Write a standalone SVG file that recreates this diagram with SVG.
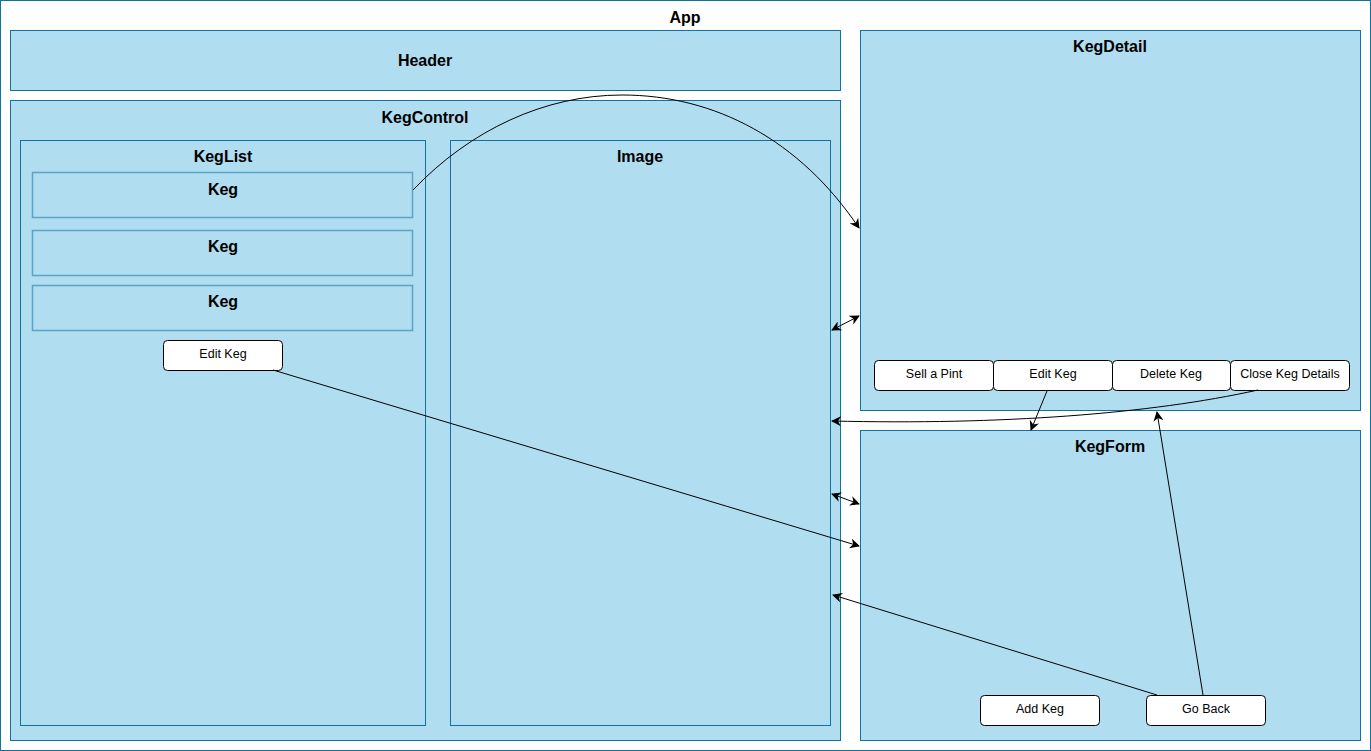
<svg xmlns="http://www.w3.org/2000/svg" width="1371" height="751" viewBox="0 0 1371 751">
<style>
.box{fill:#b1ddf0;stroke:#10739e;stroke-width:1}
.keg{fill:#b1ddf0;stroke:#5aa4c6;stroke-width:1.5}
.btn{fill:#ffffff;stroke:#000000;stroke-width:1}
.t{font-family:"Liberation Sans",Arial,sans-serif;font-size:16px;font-weight:bold;fill:#000;text-anchor:middle}
.b{font-family:"Liberation Sans",Arial,sans-serif;font-size:12.5px;fill:#000;text-anchor:middle}
.c{fill:none;stroke:#000;stroke-width:1}
</style>
<defs>
<marker id="ah" viewBox="0 0 10 10" refX="9" refY="5" markerWidth="10" markerHeight="10" markerUnits="userSpaceOnUse" orient="auto">
<path d="M0,0 L10,5 L0,10 L3,5 z" fill="#000"/>
</marker>
<marker id="as" viewBox="0 0 10 10" refX="9" refY="5" markerWidth="10" markerHeight="10" markerUnits="userSpaceOnUse" orient="auto-start-reverse">
<path d="M0,0 L10,5 L0,10 L3,5 z" fill="#000"/>
</marker>
</defs>
<g id="app"><rect x="0.5" y="0.5" width="1370" height="750" fill="#ffffff" stroke="#10739e"/><text class="t" x="685" y="23">App</text></g>
<g id="header"><rect class="box" x="10.5" y="30.5" width="830" height="60"/><text class="t" x="425" y="66">Header</text></g>
<g id="kegcontrol"><rect class="box" x="10.5" y="100.5" width="830" height="640"/><text class="t" x="425" y="123">KegControl</text></g>
<g id="keglist"><rect class="box" x="20.5" y="140.5" width="405" height="585"/><text class="t" x="223" y="162">KegList</text></g>
<g id="keg1"><rect class="keg" x="32.5" y="172.5" width="380" height="45"/><text class="t" x="223" y="195">Keg</text></g>
<g id="keg2"><rect class="keg" x="32.5" y="230.5" width="380" height="45"/><text class="t" x="223" y="252">Keg</text></g>
<g id="keg3"><rect class="keg" x="32.5" y="285.5" width="380" height="45"/><text class="t" x="223" y="307">Keg</text></g>
<g id="editkeg-list"><rect class="btn" x="163.5" y="340.5" width="119" height="30" rx="4"/><text class="b" x="223" y="358">Edit Keg</text></g>
<g id="image"><rect class="box" x="450.5" y="140.5" width="380" height="585"/><text class="t" x="640" y="162">Image</text></g>
<g id="kegdetail"><rect class="box" x="860.5" y="30.5" width="500" height="380"/><text class="t" x="1110" y="52">KegDetail</text></g>
<g id="sellpint"><rect class="btn" x="874.5" y="360.5" width="119" height="30" rx="4"/><text class="b" x="934" y="378">Sell a Pint</text></g>
<g id="editkeg-detail"><rect class="btn" x="993.5" y="360.5" width="119" height="30" rx="4"/><text class="b" x="1053" y="378">Edit Keg</text></g>
<g id="deletekeg"><rect class="btn" x="1112.5" y="360.5" width="118" height="30" rx="4"/><text class="b" x="1171" y="378">Delete Keg</text></g>
<g id="closekeg"><rect class="btn" x="1230.5" y="360.5" width="119" height="30" rx="4"/><text class="b" x="1290" y="378">Close Keg Details</text></g>
<g id="kegform"><rect class="box" x="860.5" y="430.5" width="500" height="310"/><text class="t" x="1110" y="452">KegForm</text></g>
<g id="addkeg"><rect class="btn" x="980.5" y="695.5" width="119" height="30" rx="4"/><text class="b" x="1040" y="713">Add Keg</text></g>
<g id="goback"><rect class="btn" x="1146.5" y="695.5" width="119" height="30" rx="4"/><text class="b" x="1206" y="713">Go Back</text></g>
<g id="connectors">
<path class="c" d="M413,190 C470,130 545,95 622,95 C715,95 800,140 859,228" marker-end="url(#ah)"/>
<path class="c" d="M832,330 L859,316" marker-start="url(#as)" marker-end="url(#ah)"/>
<path class="c" d="M1258,390 C1150,414 1000,425 832,421" marker-end="url(#ah)"/>
<path class="c" d="M1047,391 L1031,430" marker-end="url(#ah)"/>
<path class="c" d="M1203,695 L1157,412" marker-end="url(#ah)"/>
<path class="c" d="M1157,695 L833,595" marker-end="url(#ah)"/>
<path class="c" d="M273,370 L859,546" marker-end="url(#ah)"/>
<path class="c" d="M832,494 L859,504" marker-start="url(#as)" marker-end="url(#ah)"/>
</g>
</svg>
